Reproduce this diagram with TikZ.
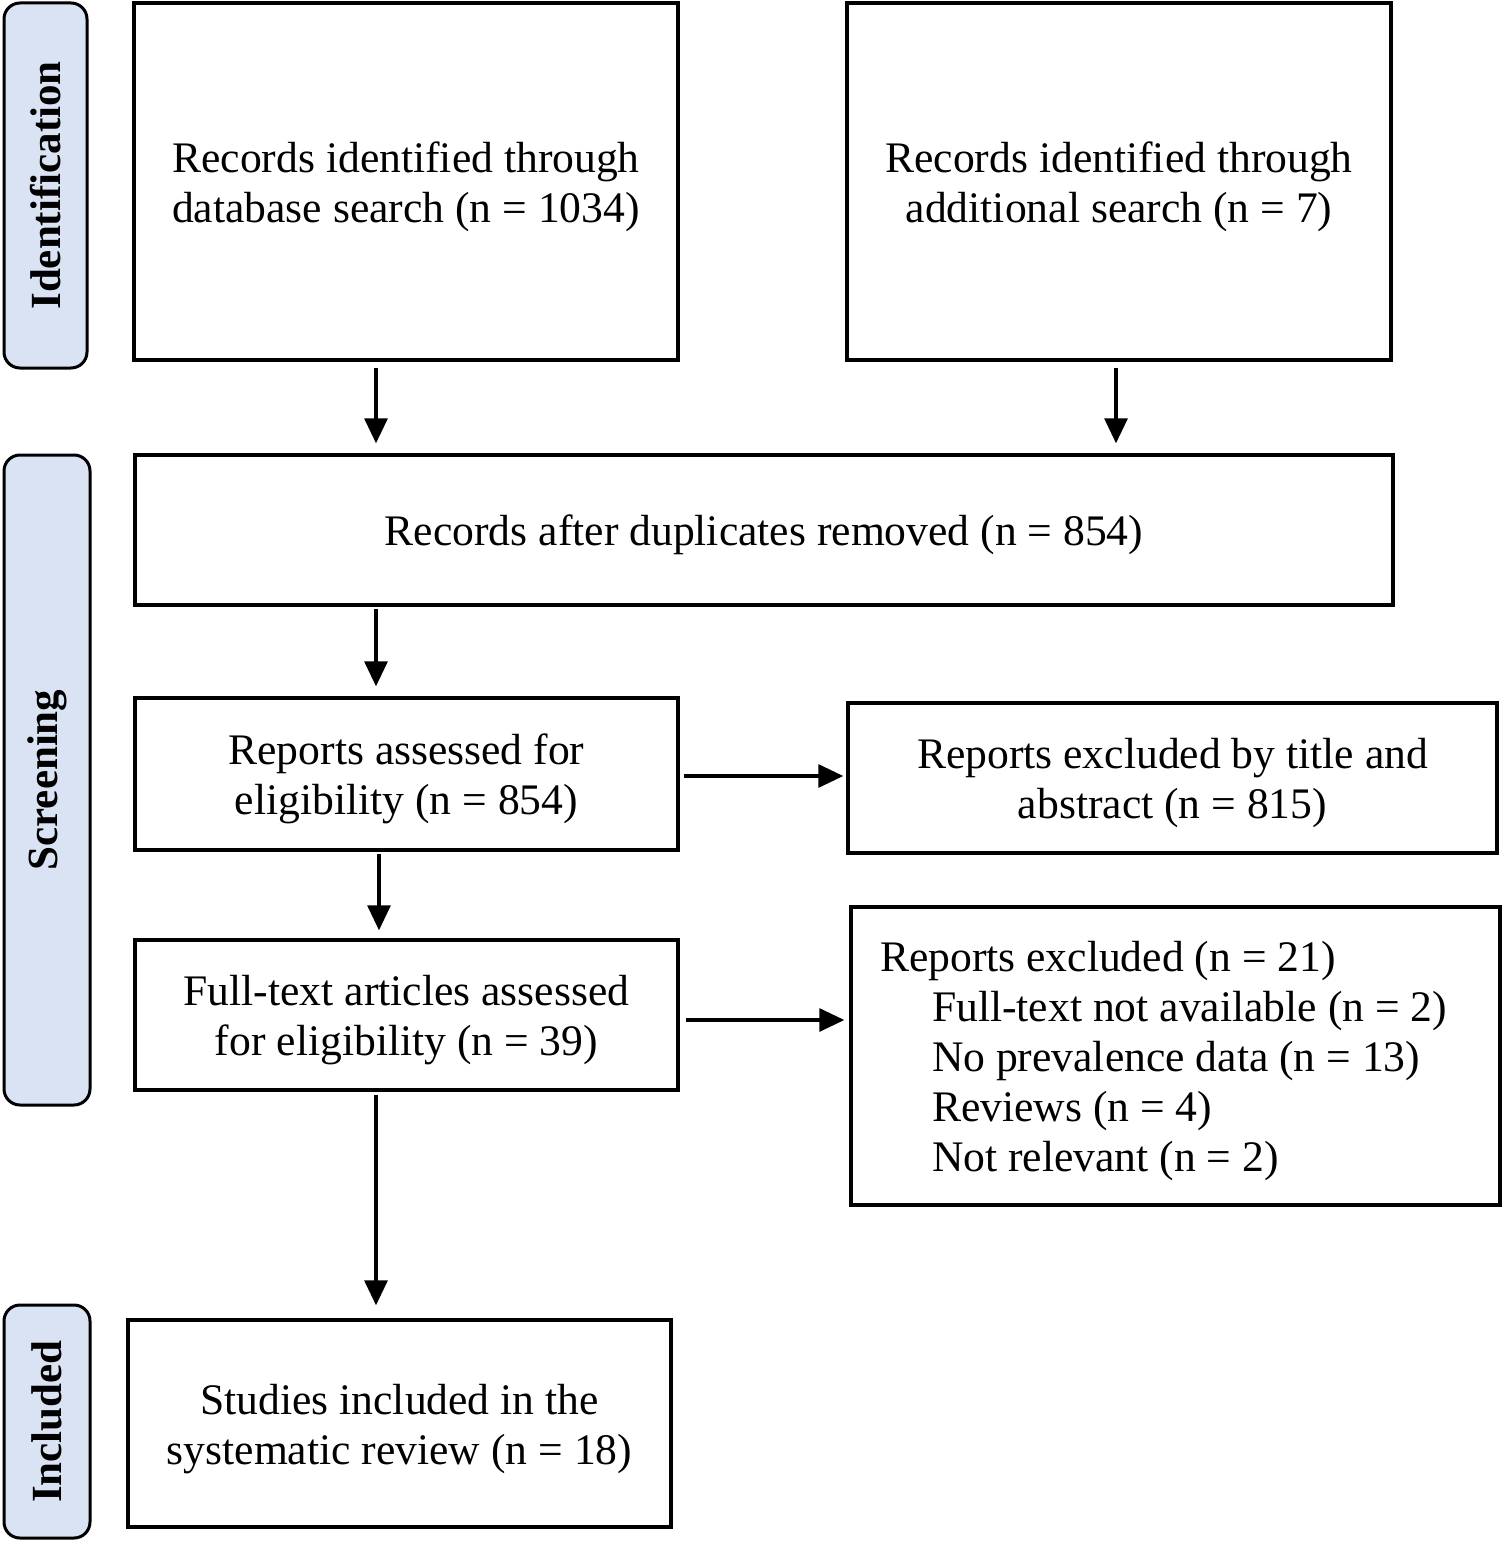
\documentclass[tikz,border=0pt]{standalone}
\usepackage{fontspec}
\setmainfont{Liberation Serif}
\usetikzlibrary{arrows.meta,calc}
\definecolor{phaseblue}{RGB}{218,227,243}
\newcommand\tstrut{\rule{0pt}{20.3pt}}
\begin{document}
\begin{tikzpicture}[x=0.5pt,y=-0.5pt,
 box/.style={draw, line width=1.7pt, rectangle, align=center, font=\fontsize{21.8}{25}\selectfont, inner sep=0pt},
 phase/.style={draw, line width=1.5pt, rounded corners=8pt, fill=phaseblue, font=\bfseries\fontsize{21.5}{25}\selectfont, rotate=90, inner sep=0pt},
 arr/.style={line width=1.6pt, -{Triangle[length=12.5pt,width=11.5pt]}}]
\useasboundingbox (0,0) rectangle (1502,1541);
% phases
\node[phase, minimum width=182.5pt, minimum height=41.5pt] (pI) at (45.5,185.5) {Identification};
\node[phase, minimum width=325pt, minimum height=43pt] (pS) at (47,780) {Screening};
\node[phase, minimum width=116.5pt, minimum height=43pt] (pN) at (47,1421.5) {Included};
% boxes
\node[box, minimum width=272pt, minimum height=178.5pt] (A) at (406,181.5) {\tstrut Records identified through\\database search (n = 1034)};
\node[box, minimum width=272pt, minimum height=178.5pt] (B) at (1119,181.5) {\tstrut Records identified through\\additional search (n = 7)};
\node[box, minimum width=629pt, minimum height=75pt] (C) at (764,530) {\tstrut Records after duplicates removed (n = 854)};
\node[box, minimum width=271.5pt, minimum height=76pt] (D) at (406.5,774) {\tstrut Reports assessed for\\eligibility (n = 854)};
\node[box, minimum width=324.5pt, minimum height=75pt] (E) at (1172.5,778) {\tstrut Reports excluded by title and\\abstract (n = 815)};
\node[box, minimum width=271.5pt, minimum height=75pt] (F) at (406.5,1015) {\tstrut Full-text articles assessed\\for eligibility (n = 39)};
\node[box, align=flush left, text width=295.5pt, inner xsep=14.5pt, minimum height=149pt] (G) at (1175.5,1056) {\tstrut Reports excluded (n = 21)\\
\hspace*{26pt}Full-text not available (n = 2)\\
\hspace*{26pt}No prevalence data (n = 13)\\
\hspace*{26pt}Reviews (n = 4)\\
\hspace*{26pt}Not relevant (n = 2)};
\node[box, minimum width=271.5pt, minimum height=103.5pt] (H) at (399.5,1423.5) {\tstrut Studies included in the\\systematic review (n = 18)};
% arrows
\draw[arr] ($(A.south)+(-30,6)$) -- ($(A.south |- C.north)+(-30,-10)$);
\draw[arr] ($(B.south)+(-3,6)$) -- ($(B.south |- C.north)+(-3,-10)$);
\draw[arr] ($(D.north |- C.south)+(-30.5,2)$) -- ($(D.north)+(-30.5,-10)$);
\draw[arr] ($(D.south)+(-27.5,2)$) -- ($(F.north)+(-27.5,-8)$);
\draw[arr] ($(F.south)+(-30.5,3)$) -- ($(F.south |- H.north)+(-30.5,-13)$);
\draw[arr] ($(D.east)+(4,2)$) -- ($(E.west |- D.east)+(-3,2)$);
\draw[arr] ($(F.east)+(6,5)$) -- ($(G.west |- F.east)+(-5,5)$);
\end{tikzpicture}
\end{document}
